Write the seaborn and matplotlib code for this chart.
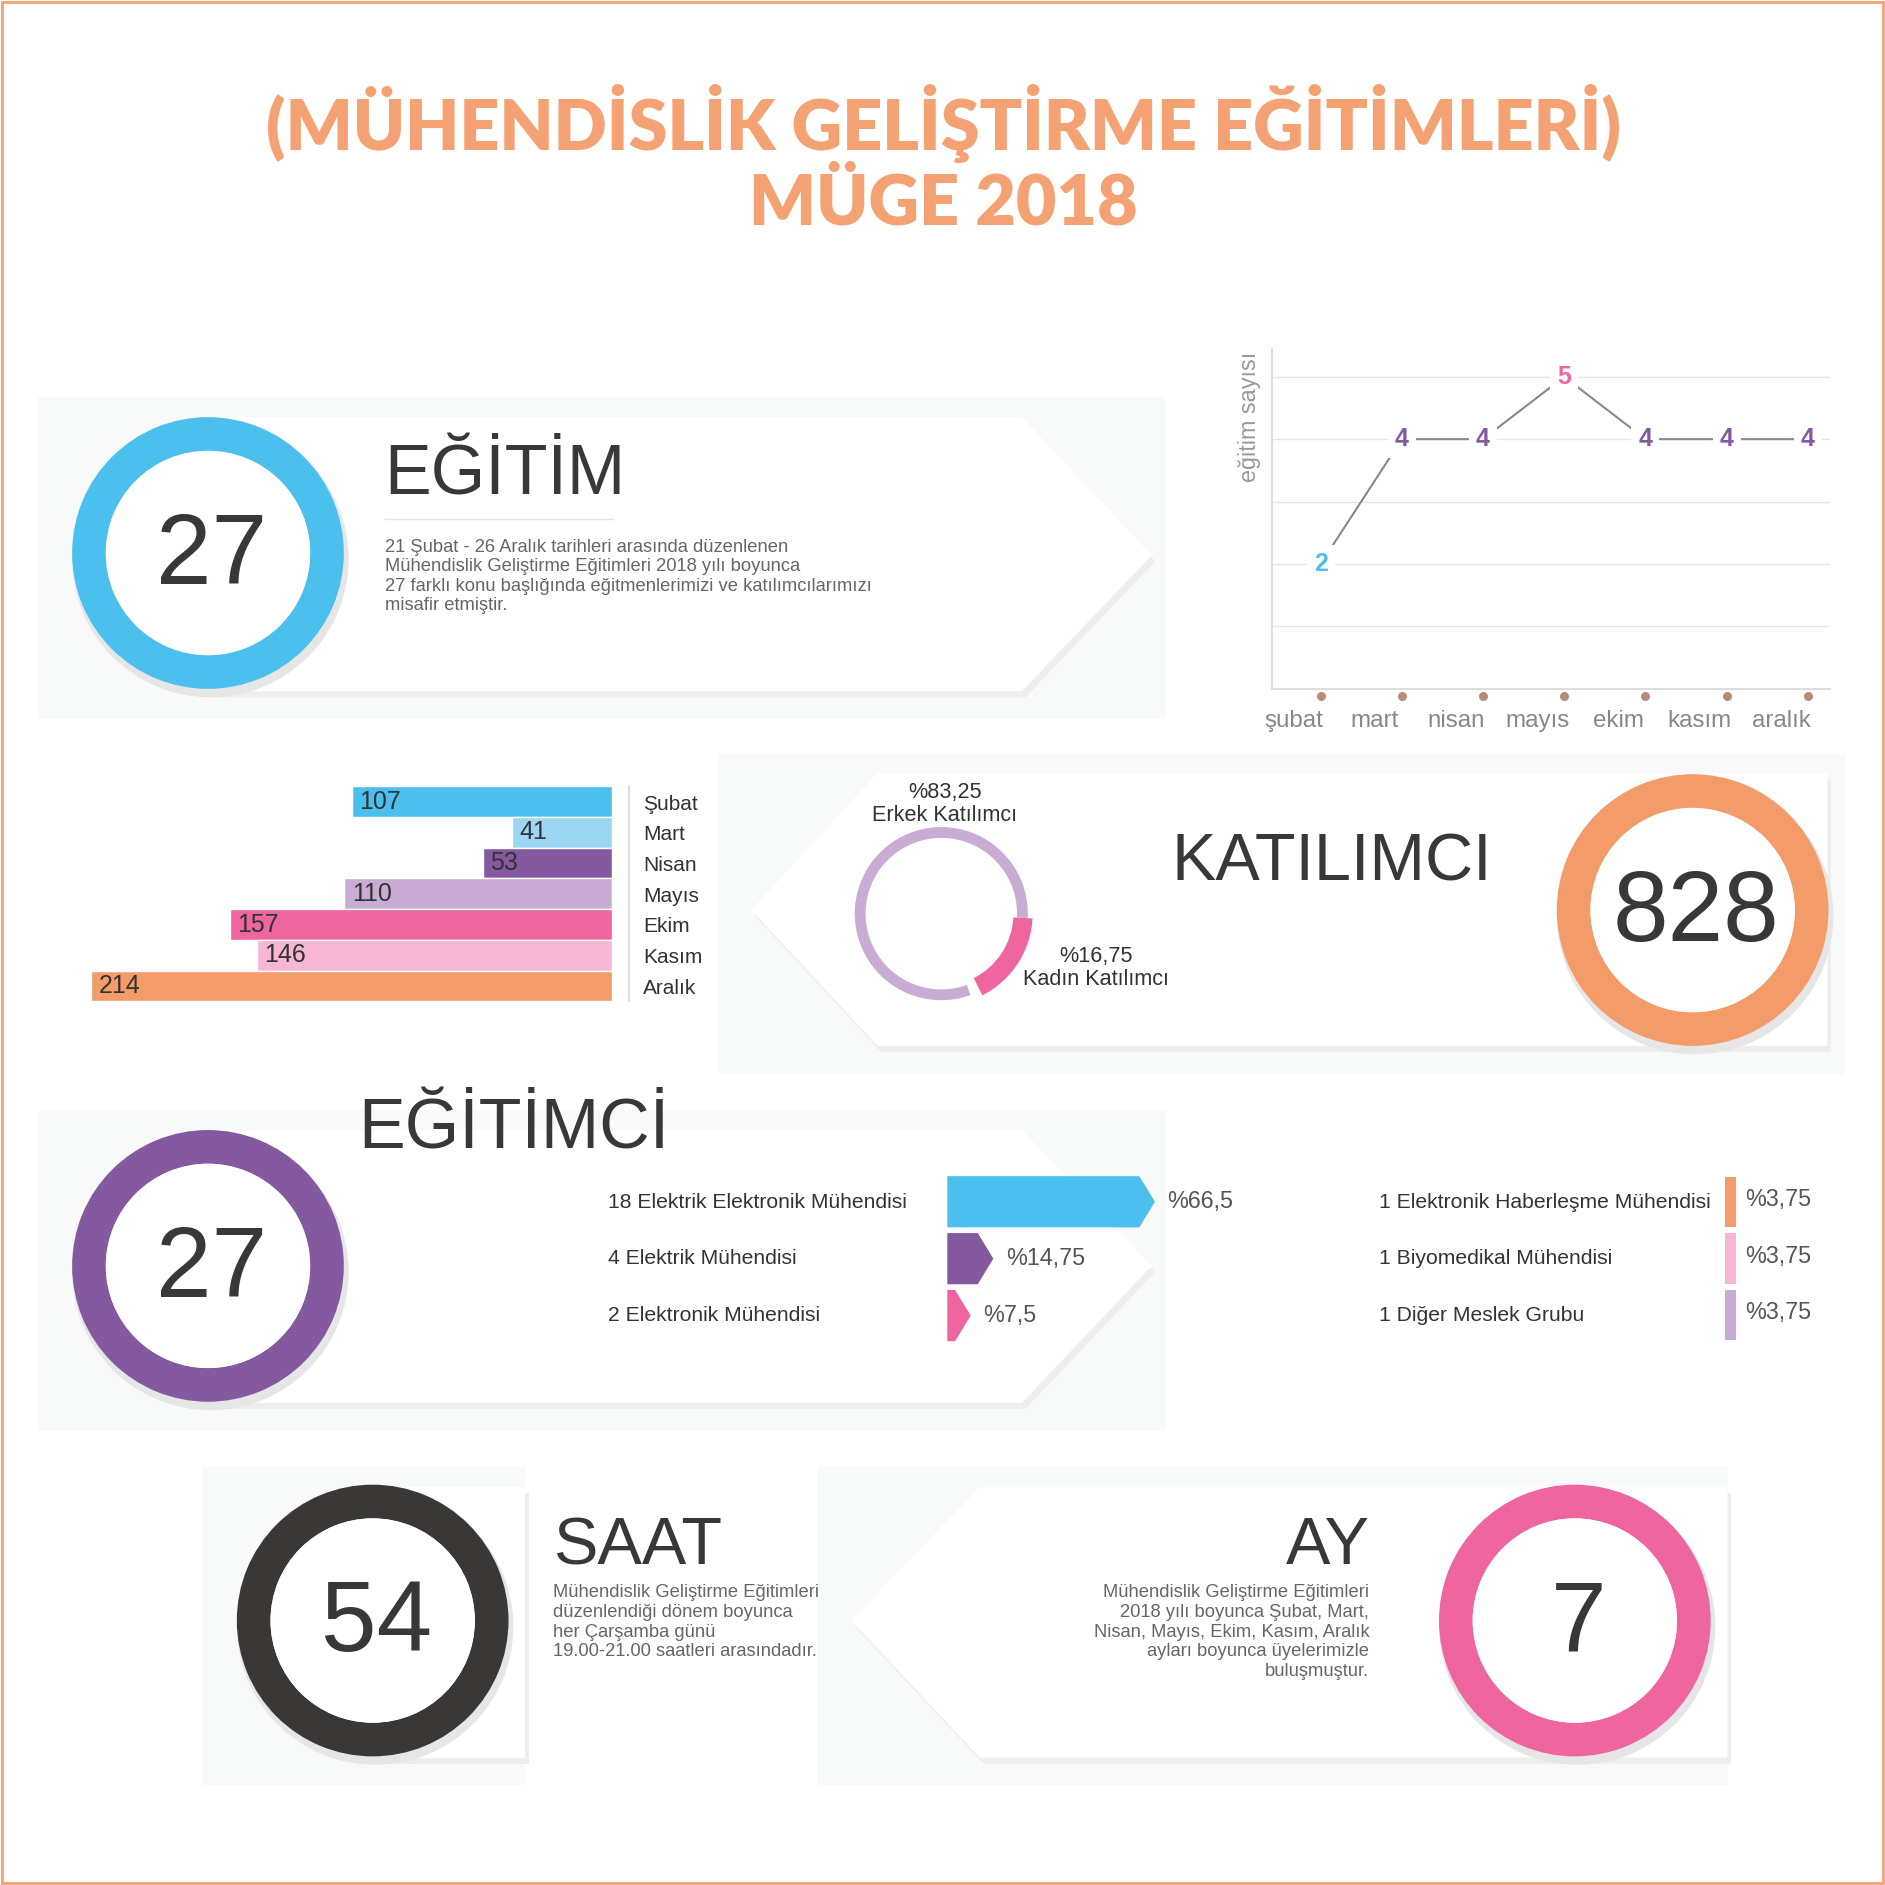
import numpy as np
import pandas as pd
import seaborn as sns
import matplotlib.pyplot as plt
from matplotlib.patches import Wedge, Polygon, Rectangle

sns.set_theme(style="white")
plt.rcParams["font.family"] = ["Liberation Sans", "DejaVu Sans"]

# ---- data ----
months_line = ["şubat", "mart", "nisan", "mayıs", "ekim", "kasım", "aralık"]
egitim_sayisi = [2, 4, 4, 5, 4, 4, 4]
line_colors = ["#4BC0EE", "#8459A0", "#8459A0", "#EE65A0", "#8459A0", "#8459A0", "#8459A0"]

months_bar = ["Şubat", "Mart", "Nisan", "Mayıs", "Ekim", "Kasım", "Aralık"]
katilimci = [107, 41, 53, 110, 157, 146, 214]
bar_colors = ["#4BC0EE", "#9DD6F2", "#8459A0", "#C9ACD4", "#EE65A0", "#F6B6D4", "#F49B6A"]

erkek_pct, kadin_pct = 83.25, 16.75

meslek_left = ["18 Elektrik Elektronik Mühendisi", "4 Elektrik Mühendisi", "2 Elektronik Mühendisi"]
meslek_left_pct = [66.5, 14.75, 7.5]
meslek_left_lbl = ["%66,5", "%14,75", "%7,5"]
meslek_right = ["1 Elektronik Haberleşme Mühendisi", "1 Biyomedikal Mühendisi", "1 Diğer Meslek Grubu"]
meslek_right_pct = [3.75, 3.75, 3.75]
meslek_right_lbl = ["%3,75", "%3,75", "%3,75"]

W = 1568
ORANGE = "#F4A173"
DARK = "#3A3836"
GRAY = "#666666"

fig = plt.figure(figsize=(18.85, 18.85), dpi=100)
bg = fig.add_axes([0, 0, 1, 1])
bg.set_xlim(0, W)
bg.set_ylim(W, 0)
bg.axis("off")


def box(x0, y0, x1, y1):
    return [x0 / W, 1 - y1 / W, (x1 - x0) / W, (y1 - y0) / W]


def fs(cap):
    return cap * 1.2


# border
bg.add_patch(Rectangle((2, 2), W - 4, W - 4, fill=False, ec=ORANGE, lw=2))

# title
bg.text(785, 103, "(MÜHENDİSLİK GELİŞTİRME EĞİTİMLERİ)", ha="center", va="center",
        fontsize=fs(42), color=ORANGE, fontweight="heavy", family=["Lato", "DejaVu Sans"])
bg.text(785, 170, "MÜGE 2018", ha="center", va="center",
        fontsize=fs(42), color=ORANGE, fontweight="heavy", family=["Lato", "DejaVu Sans"])


def panel_gray(x0, y0, x1, y1):
    bg.add_patch(Rectangle((x0, y0), x1 - x0, y1 - y0, fc="#F8F9F9", ec="none", zorder=0))


def white_shape(pts):
    sh = [(x + 3, y + 5) for x, y in pts]
    bg.add_patch(Polygon(sh, closed=True, fc="#EEEEEE", ec="none", zorder=1))
    bg.add_patch(Polygon(pts, closed=True, fc="white", ec="none", zorder=2))


def ring(cx, cy, color, label, r=113, w=28):
    bg.add_patch(Wedge((cx + 2, cy + 5), r + 2, 0, 360, width=w + 4, fc="#E6E6E6", ec="none", zorder=3))
    bg.add_patch(Wedge((cx, cy), r, 0, 360, width=w, fc=color, ec="none", zorder=4))
    bg.add_patch(Wedge((cx, cy), r - w, 0, 360, fc="white", ec="none", zorder=4))
    bg.text(cx + 3, cy + 4, label, ha="center", va="center", fontsize=fs(60), color=DARK, zorder=5)


desc_kw = dict(fontsize=fs(11), color=GRAY, linespacing=1.2, zorder=5)

# ---- panel 1: EĞİTİM ----
panel_gray(32, 330, 970, 598)
white_shape([(170, 347), (850, 347), (958, 462), (850, 575), (170, 575)])
ring(173, 460, "#4BC0EE", "27")
bg.text(320, 396, "EĞİTİM", ha="left", va="center", fontsize=fs(42), color=DARK, zorder=5)
bg.plot([320, 510], [432, 432], color="#E4E4E4", lw=1, zorder=5)
bg.text(320, 448, "21 Şubat - 26 Aralık tarihleri arasında düzenlenen\nMühendislik Geliştirme Eğitimleri 2018 yılı boyunca\n"
        "27 farklı konu başlığında eğitmenlerimizi ve katılımcılarımızı\nmisafir etmiştir.",
        ha="left", va="top", **desc_kw)

# ---- line chart ----
ax_l = fig.add_axes(box(1058, 290, 1522, 573))
df_l = pd.DataFrame({"ay": np.arange(len(months_line)), "n": egitim_sayisi})
sns.lineplot(data=df_l, x="ay", y="n", color="#888888", lw=1.5, ax=ax_l, zorder=2)
ax_l.set_xlim(-0.6, 6.27)
ax_l.set_ylim(0, 5.45)
ax_l.set_yticks([1, 2, 3, 4, 5])
ax_l.yaxis.grid(True, color="#E6E6E6", lw=1)
ax_l.set_yticklabels([])
ax_l.tick_params(left=False, bottom=False)
ax_l.set_xticks([])
for i, m in enumerate(months_line):
    ax_l.text(i - 0.33, -0.52, m, ha="center", va="center", fontsize=fs(14.5), color="#888888", clip_on=False)
ax_l.set_xlabel("")
ax_l.set_ylabel("eğitim sayısı", fontsize=fs(14), color="#999999")
ax_l.yaxis.set_label_coords(-0.02, 0.8)
for s in ["top", "right"]:
    ax_l.spines[s].set_visible(False)
for s in ["left", "bottom"]:
    ax_l.spines[s].set_color("#DDDDDD")
    ax_l.spines[s].set_linewidth(1.5)
for i, (v, c) in enumerate(zip(egitim_sayisi, line_colors)):
    ax_l.text(i, v, str(v), ha="center", va="center", fontsize=fs(15), fontweight="bold", color=c,
              bbox=dict(fc="white", ec="none", pad=5), zorder=4)
ax_l.scatter(range(len(months_line)), [-0.12] * len(months_line), s=30, color="#B98A78", clip_on=False, zorder=5)

# ---- panel 2: KATILIMCI ----
panel_gray(597, 627, 1535, 893)
white_shape([(625, 757), (730, 643), (1520, 643), (1520, 870), (730, 870)])
ring(1408, 757, "#F49B6A", "828")
bg.text(1108, 718, "KATILIMCI", ha="center", va="center", fontsize=fs(40), color=DARK, zorder=5)
k_span = kadin_pct * 3.6
bg.add_patch(Wedge((783, 760), 76, 3, 3 + k_span, width=16, fc="#EE65A0", ec="none", zorder=5))
bg.add_patch(Wedge((783, 760), 72, 3 + k_span + 7, 363, width=9, fc="#C9ACD4", ec="none", zorder=5))
bg.text(786, 669, "%83,25\nErkek Katılımcı", ha="center", va="center", fontsize=fs(13), color="#333333",
        linespacing=1.1, zorder=5)
bg.text(912, 805, "%16,75\nKadın Katılımcı", ha="center", va="center", fontsize=fs(13), color="#333333",
        linespacing=1.1, zorder=5)

# ---- bar chart ----
ax_b = fig.add_axes(box(76, 654, 509, 833))
df_b = pd.DataFrame({"ay": months_bar, "n": katilimci})
sns.barplot(data=df_b, x="n", y="ay", hue="ay", palette=bar_colors, width=1.0, saturation=1,
            legend=False, ax=ax_b)
ax_b.set_xlim(214, 0)
ax_b.set_ylim(6.5, -0.5)
ax_b.axis("off")
for i, v in enumerate(katilimci):
    ax_b.text(v - 3, i, str(v), ha="left", va="center", fontsize=fs(15), color="#333333")
bg.plot([523, 523], [654, 833], color="#DDDDDD", lw=1.5)
for i, m in enumerate(months_bar):
    bg.text(535, 669 + i * 25.5, m, ha="left", va="center", fontsize=fs(12.5), color="#333333")

# ---- panel 3: EĞİTİMCİ ----
panel_gray(32, 923, 970, 1190)
white_shape([(170, 940), (850, 940), (958, 1053), (850, 1167), (170, 1167)])
ring(173, 1053, "#8459A0", "27")
bg.text(298, 940, "EĞİTİMCİ", ha="left", va="center", fontsize=fs(42), color=DARK, zorder=5)

ax_p = fig.add_axes(box(788, 976, 1110, 1118))
ax_p.set_xlim(0, 124)
ax_p.set_ylim(2.5, -0.5)
ax_p.axis("off")
ax_p.patch.set_alpha(0)
left_cols = ["#4BC0EE", "#8459A0", "#EE65A0"]
for i, (v, c, lbl) in enumerate(zip(meslek_left_pct, left_cols, meslek_left_lbl)):
    h = 0.45
    tip = 5
    ax_p.fill([0, v - tip, v, v - tip, 0], [i - h, i - h, i, i + h, i + h], color=c, lw=0)
    ax_p.text(v + 4, i, lbl, ha="left", va="center", fontsize=fs(14), color="#555555")
for i, m in enumerate(meslek_left):
    bg.text(506, 1000 + i * 47, m, ha="left", va="center", fontsize=fs(12.7), color="#333333", zorder=5)

right_cols = ["#F49B6A", "#F6B6D4", "#C9ACD4"]
for i, (m, v, c, lbl) in enumerate(zip(meslek_right, meslek_right_pct, right_cols, meslek_right_lbl)):
    y = 1000 + i * 47
    bg.text(1147, y, m, ha="left", va="center", fontsize=fs(12.7), color="#333333")
    bg.add_patch(Rectangle((1435, y - 21), v * 2.5, 42, fc=c, ec="none"))
    bg.text(1452, y - 2, lbl, ha="left", va="center", fontsize=fs(14), color="#555555")

# ---- panel 4: SAAT ----
panel_gray(168, 1220, 437, 1485)
white_shape([(300, 1237), (437, 1237), (437, 1462), (300, 1462)])
ring(310, 1348, DARK, "54")
bg.text(460, 1287, "SAAT", ha="left", va="center", fontsize=fs(40), color=DARK, zorder=5)
bg.text(460, 1318, "Mühendislik Geliştirme Eğitimleri\ndüzenlendiği dönem boyunca\nher Çarşamba günü\n"
        "19.00-21.00 saatleri arasındadır.", ha="left", va="top", **desc_kw)

# ---- panel 5: AY ----
panel_gray(680, 1220, 1437, 1485)
white_shape([(708, 1348), (815, 1237), (1437, 1237), (1437, 1462), (815, 1462)])
ring(1310, 1348, "#EE65A0", "7")
bg.text(1139, 1287, "AY", ha="right", va="center", fontsize=fs(40), color=DARK, zorder=5)
bg.text(1139, 1318, "Mühendislik Geliştirme Eğitimleri\n2018 yılı boyunca Şubat, Mart,\nNisan, Mayıs, Ekim, Kasım, Aralık\n"
        "ayları boyunca üyelerimizle\nbuluşmuştur.", ha="right", va="top", multialignment="right", **desc_kw)

fig.savefig("out.png", dpi=100)
